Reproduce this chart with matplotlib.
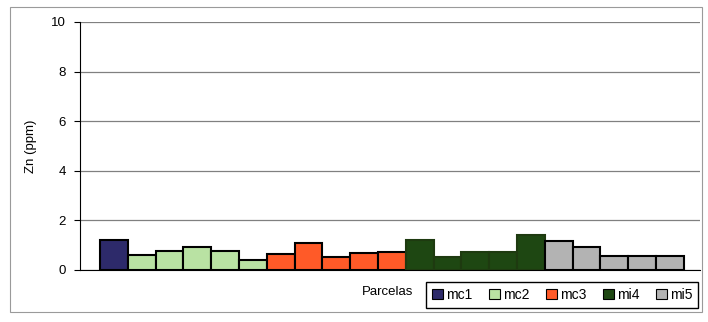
import matplotlib.pyplot as plt
from matplotlib.patches import Rectangle, Patch
import numpy as np

plt.rcParams['font.family'] = ['Liberation Sans', 'DejaVu Sans']

groups = ['mc1', 'mc2', 'mc3', 'mi4', 'mi5']
colors = ['#2d2a6a', '#b9e2a3', '#ff5a28', '#1e4712', '#b3b3b3']
zn = {
    'mc1': [1.22],
    'mc2': [0.60, 0.78, 0.91, 0.75, 0.42],
    'mc3': [0.64, 1.09, 0.53, 0.67, 0.71],
    'mi4': [1.22, 0.54, 0.71, 0.71, 1.43],
    'mi5': [1.16, 0.94, 0.58, 0.58, 0.57],
}
yticks = [0, 2, 4, 6, 8, 10]

fig = plt.figure(figsize=(7.08, 3.22), dpi=100)
# outer chart frame
fig.patches.append(Rectangle((10 / 708, 1 - 312 / 322), 692 / 708, 305 / 322,
                             transform=fig.transFigure, fill=False,
                             edgecolor='#9a9a9a', lw=0.8))

ax = fig.add_axes([80 / 708, 1 - 270 / 322, 620 / 708, 248 / 322])

pos = 0
for g, c in zip(groups, colors):
    vals = zn[g]
    x = np.arange(pos, pos + len(vals))
    ec = '#1e3a10' if g == 'mi4' else 'black'
    ax.bar(x, vals, width=1.0, color=c, edgecolor=ec, linewidth=1.5, zorder=3)
    pos += len(vals)

ax.set_xlim(-1.22, pos + 0.08)
ax.set_ylim(0, 10)
ax.set_yticks(yticks)
ax.set_xticks([])
ax.grid(axis='y', color='#808080', lw=0.9, zorder=0)
for s in ['top', 'right']:
    ax.spines[s].set_visible(False)
ax.spines['left'].set_color('black')
ax.spines['bottom'].set_color('black')
ax.tick_params(axis='y', direction='out', length=4, labelsize=9.5, pad=6)
ax.set_ylabel('Zn (ppm)', fontsize=9.5, labelpad=10)

fig.text(362 / 708, 1 - 292 / 322, 'Parcelas', fontsize=9.5, va='center')
handles = [Patch(facecolor=c, edgecolor='black', lw=0.8) for c in colors]
fig.legend(handles, groups, loc='center', ncol=5,
           bbox_to_anchor=(562 / 708, 1 - 295 / 322), fontsize=10,
           handlelength=0.8, handleheight=0.8, handletextpad=0.2,
           columnspacing=1.2, borderpad=0.45, fancybox=False,
           edgecolor='black', framealpha=1)

fig.savefig('out.png', dpi=100)
